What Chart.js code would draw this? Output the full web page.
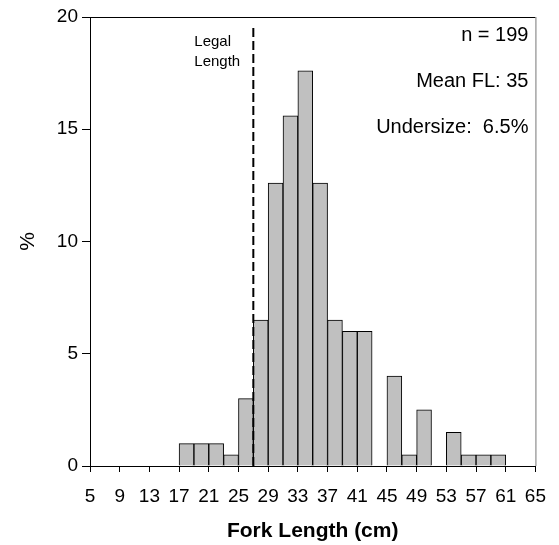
<!DOCTYPE html>
<html>
<head>
<meta charset="utf-8">
<script src="https://cdn.jsdelivr.net/npm/chart.js@4.4.1/dist/chart.umd.min.js"></script>
<style>
html, body { margin:0; padding:0; background:#fff; }
#wrap { width:559px; height:545px; }
</style>
</head>
<body>
<div id="wrap"><canvas id="hist_chart"></canvas></div>
<script>
// fork length bins (lower edge, cm) and % of fish in each
var binStarts = [17, 19, 21, 23, 25, 27, 29, 31, 33, 35, 37, 39, 41, 43, 45, 47, 49, 51, 53, 55, 57, 59];
var percents  = [1.0, 1.0, 1.0, 0.5, 3.0, 6.5, 12.6, 15.6, 17.6, 12.6, 6.5, 6.0, 6.0, 0, 4.0, 0.5, 2.5, 0, 1.5, 0.5, 0.5, 0.5];
var binWidth = 2;
var xTicks = [5, 9, 13, 17, 21, 25, 29, 33, 37, 41, 45, 49, 53, 57, 61, 65];
var yTicks = [0, 5, 10, 15, 20];
var legalLength = 27;
var legalLabel = ['Legal', 'Length'];
var statLines = ['n = 199', 'Mean FL: 35', 'Undersize:  6.5%'];

var FONT = "'Liberation Sans', Arial, Helvetica, sans-serif";

var barData = [];
for (var i = 0; i < binStarts.length; i++) {
    barData.push({ x: binStarts[i] + binWidth / 2, y: percents[i] });
}

// dashed legal length line, frame and text notes
var extras = {
    id: 'extras',
    afterDatasetsDraw: function(chart) {
        var c = chart.ctx, a = chart.chartArea;
        var lx = chart.scales.x.getPixelForValue(legalLength);
        c.save();
        c.strokeStyle = '#000';
        c.lineWidth = 2;
        c.setLineDash([9, 4]);
        c.beginPath();
        c.moveTo(lx, a.top + 11);
        c.lineTo(lx, a.bottom);
        c.stroke();
        c.setLineDash([]);

        // top + right frame
        c.lineWidth = 1;
        c.strokeStyle = '#000';
        c.beginPath();
        c.moveTo(a.left, a.top + 0.5);
        c.lineTo(a.right, a.top + 0.5);
        c.stroke();
        c.strokeStyle = '#777';
        c.beginPath();
        c.moveTo(a.right + 0.5, a.top);
        c.lineTo(a.right + 0.5, a.bottom);
        c.stroke();

        c.fillStyle = '#000';
        c.textBaseline = 'middle';
        c.font = '15px ' + FONT;
        c.textAlign = 'left';
        c.fillText(legalLabel[0], lx - 59, a.top + 25);
        c.fillText(legalLabel[1], lx - 59, a.top + 45);

        c.font = '20px ' + FONT;
        c.textAlign = 'right';
        for (var k = 0; k < statLines.length; k++) {
            c.fillText(statLines[k], a.right - 7, a.top + 18 + k * 46);
        }
        c.restore();
    }
};

var ctx = document.getElementById('hist_chart').getContext('2d');
var chart = new Chart(ctx, {
    type: 'bar',
    data: {
        datasets: [{
            data: barData,
            backgroundColor: '#c0c0c0',
            borderColor: '#000',
            borderWidth: 1,
            borderSkipped: 'bottom',
            categoryPercentage: 1.0,
            barPercentage: 1.0
        }]
    },
    options: {
        responsive: true,
        maintainAspectRatio: false,
        animation: false,
        devicePixelRatio: 1,
        layout: { padding: { top: 17, right: 20, left: 0, bottom: 0 } },
        plugins: { legend: { display: false }, tooltip: { enabled: false } },
        scales: {
            x: {
                type: 'linear',
                min: 5,
                max: 65,
                offset: false,
                afterBuildTicks: function(s) { s.ticks = xTicks.map(function(v){ return { value: v }; }); },
                afterFit: function(s) { s.height = 79; },
                ticks: { autoSkip: false, maxRotation: 0, color: '#000', padding: 13, font: { family: FONT, size: 19 } },
                grid: { offset: false, drawOnChartArea: false, drawTicks: true, tickLength: 6, color: '#000' },
                border: { color: '#000', width: 1 },
                title: { display: true, text: 'Fork Length (cm)', color: '#000', padding: { top: 0, bottom: 1 },
                         font: { family: FONT, size: 21, weight: 'bold' } }
            },
            y: {
                min: 0,
                max: 20,
                afterBuildTicks: function(s) { s.ticks = yTicks.map(function(v){ return { value: v }; }); },
                afterFit: function(s) { s.width = 90; },
                ticks: { color: '#000', padding: 4, font: { family: FONT, size: 19 } },
                grid: { drawOnChartArea: false, drawTicks: true, tickLength: 8, color: '#000' },
                border: { color: '#000', width: 1 },
                title: { display: true, text: '%', color: '#000', padding: { top: 16, bottom: 0 },
                         font: { family: FONT, size: 21 } }
            }
        }
    },
    plugins: [extras]
});
</script>
</body>
</html>
